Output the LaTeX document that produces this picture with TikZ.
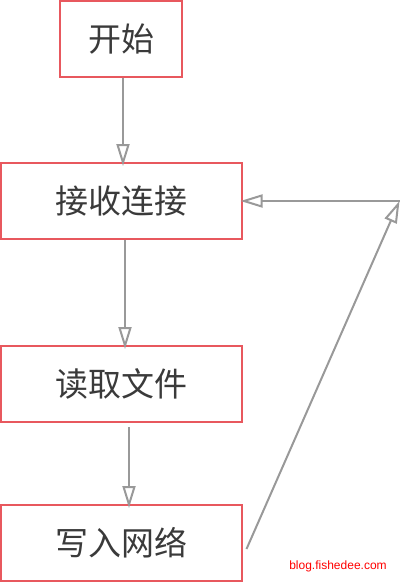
\documentclass[tikz,border=0pt]{standalone}
\usepackage{fontspec}
\setmainfont{Noto Sans CJK SC}
\newfontfamily\watermarkfont{Liberation Sans}
\usepackage{xcolor}
\usepackage{tikz}
\usetikzlibrary{positioning, arrows.meta}

\definecolor{boxred}{HTML}{E8585E}
\definecolor{flowgray}{HTML}{999999}
\definecolor{textgray}{HTML}{3A3A3A}

\begin{document}
\begin{tikzpicture}[
  every node/.style={font=\fontsize{16.5}{19}\selectfont, text=textgray},
  stepbox/.style={
    draw=boxred, line width=1pt,
    minimum height=38pt, inner sep=0pt, align=center
  },
  flow/.style={
    draw=flowgray, line width=1pt,
    -{Triangle[open, length=11pt, width=6.5pt]}
  },
]
\useasboundingbox (0,0) rectangle (200pt,-291.5pt);

\node[stepbox, minimum width=61pt] (start) at (60.5pt,-19.5pt) {开始};
\node[stepbox, minimum width=120.5pt, below=42pt of start] (recv) {接收连接};
\node[stepbox, minimum width=120.5pt, below=52.5pt of recv] (read) {读取文件};
\node[stepbox, minimum width=120.5pt, below=40.5pt of read] (write) {写入网络};

% flow down
\draw[flow] ([xshift=1pt]start.south) -- ([xshift=1pt,yshift=-2pt]recv.north);
\draw[flow] ([xshift=2pt]recv.south) -- ([xshift=2pt,yshift=-2pt]read.north);
\draw[flow] ([xshift=4pt,yshift=-2pt]read.south) -- ([xshift=4pt,yshift=-2pt]write.north);

% back to accept
\coordinate (back) at ([xshift=78.5pt]recv.east);
\draw[flow] ([xshift=2pt,yshift=-3pt]write.east) -- (back);
\draw[flow] (back) -- ([xshift=-1pt]recv.east);

\node[font=\watermarkfont\fontsize{6}{7}\selectfont, text=red] (mark)
  at (169pt,-283pt) {blog.fishedee.com};

\end{tikzpicture}
\end{document}
